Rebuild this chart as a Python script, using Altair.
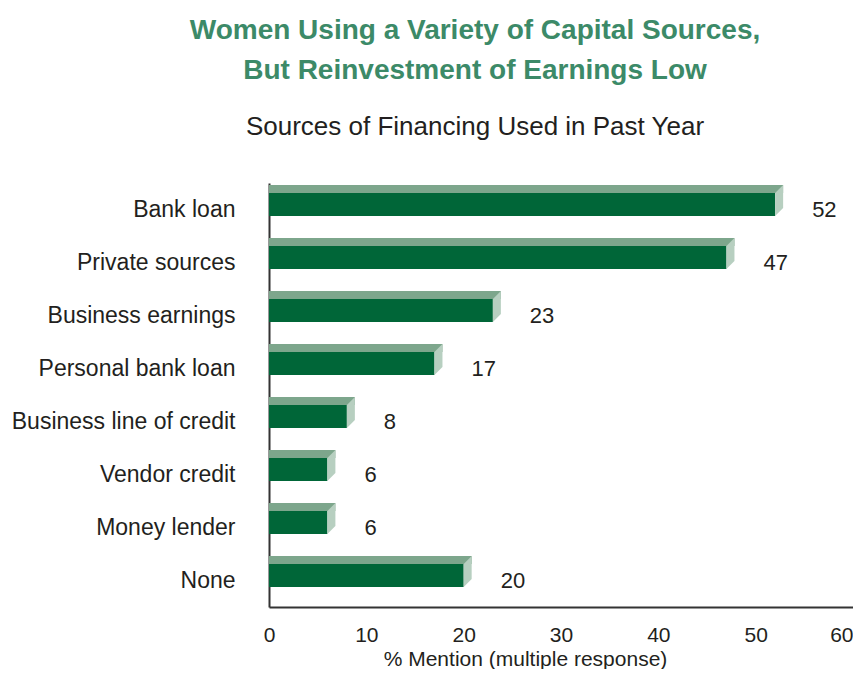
import altair as alt
import pandas as pd

categories = ["Bank loan", "Private sources", "Business earnings", "Personal bank loan",
              "Business line of credit", "Vendor credit", "Money lender", "None"]
values = [52, 47, 23, 17, 8, 6, 6, 20]
ticks = [0, 10, 20, 30, 40, 50, 60]

df = pd.DataFrame({"cat": categories, "value": values})

FRONT = "#006638"
TOP = "#7DA68C"
SIDE = "#B7CFC0"
TXT = "#231F20"
FONT = "Liberation Sans"

yenc = alt.Y("cat:N", sort=None, title=None,
             scale=alt.Scale(paddingInner=0, paddingOuter=0),
             axis=alt.Axis(ticks=False, labelFontSize=23, labelColor=TXT, labelFont=FONT,
                           labelPadding=34, domainColor="#333333", domainWidth=2,
                           labelLimit=300))

xenc = alt.X("value:Q", scale=alt.Scale(domain=[0, 60], nice=False),
             title="% Mention (multiple response)",
             axis=alt.Axis(values=ticks, ticks=False, grid=False,
                           labelFlush=False,
                           labelAlign=alt.condition("datum.value == 60", alt.value("right"), alt.value("center")),
                           labelFontSize=21, labelColor=TXT, labelFont=FONT, labelPadding=17,
                           domainColor="#333333", domainWidth=2,
                           titleFontSize=21, titleFontWeight="normal", titleFont=FONT,
                           titleColor=TXT, titleX=256, titleY=58, titleAlign="center",
                           titleBaseline="alphabetic"))

base = alt.Chart(df)

top_face = base.mark_bar(size=8, yOffset=-20.5, xOffset=8, color=TOP).encode(
    x=xenc, x2=alt.datum(0), y=yenc)

front = base.mark_bar(size=23, yOffset=-5, color=FRONT).encode(
    x=alt.X("value:Q"), x2=alt.datum(0), y=alt.Y("cat:N", sort=None))

side = base.mark_point(
    shape="M0,-0.575 L0.4,-0.975 L0.4,0.175 L0,0.575 Z",
    size=1600, filled=True, opacity=1, strokeWidth=0, color=SIDE, yOffset=-5
).encode(x=alt.X("value:Q"), y=alt.Y("cat:N", sort=None))

labels = base.mark_text(align="left", baseline="middle", dx=37, fontSize=22,
                        font=FONT, color=TXT).encode(
    x=alt.X("value:Q"), y=alt.Y("cat:N", sort=None), text=alt.Text("value:Q"))

chart = alt.layer(top_face, front, side, labels).properties(
    width=584, height=424,
    padding={"left": 261, "top": 175, "right": 0, "bottom": 62},
    autosize=alt.AutoSizeParams(type="none"),
    title=alt.TitleParams(
        text=["Women Using a Variety of Capital Sources,", "But Reinvestment of Earnings Low"],
        subtitle="Sources of Financing Used in Past Year",
        font=FONT, fontSize=28, fontWeight="bold", color="#3C8A68", lineHeight=40,
        subtitleFont=FONT, subtitleFontSize=26, subtitleColor=TXT, subtitlePadding=29,
        anchor="middle", frame="group", dx=-86, offset=43,
    ),
).configure_view(stroke=None)

chart.save("out.html", embed_options={"renderer": "svg", "actions": False})
